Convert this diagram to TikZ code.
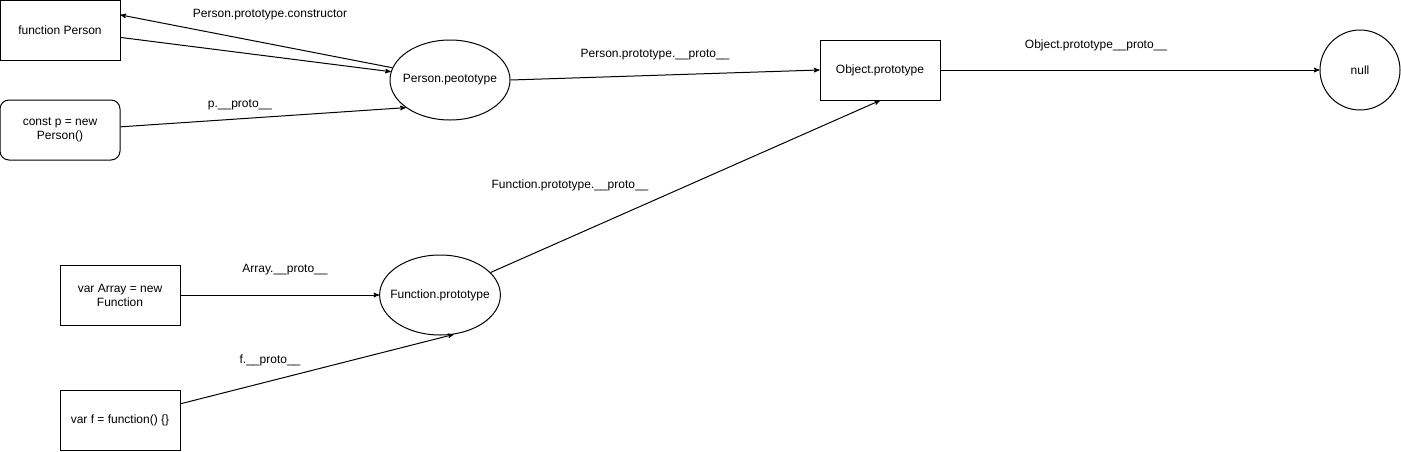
\documentclass[tikz,border=0pt]{standalone}
\usepackage{fontspec}
\setmainfont{Liberation Sans}
\usepackage{tikz}
\usetikzlibrary{arrows,shapes.geometric}

\begin{document}
\begin{tikzpicture}[x=1pt,y=-1pt,->,>=stealth',line width=1pt,
  font=\fontsize{12}{14}\selectfont,
  box node/.style={draw,-,minimum width=120pt,minimum height=60pt,align=center,inner sep=2pt},
  oval node/.style={draw,-,ellipse,minimum width=120pt,minimum height=80pt,inner xsep=-7pt,inner ysep=1pt},
  lbl node/.style={inner sep=1pt}]

  \useasboundingbox (0,0) rectangle (1401,451);

  \node[box node] (fperson) at (60,30) {function Person};
  \node[box node,rounded corners=9pt] (cp) at (60,130) {const p = new\\Person()};
  \node[oval node] (pproto) at (450,80) {Person.peototype};
  \node[box node] (obj) at (880,70) {Object.prototype};
  \node[draw,-,circle,minimum size=80pt] (null) at (1360,70) {null};
  \node[box node] (arr) at (120,295) {var Array = new\\Function};
  \node[oval node] (fproto) at (440,295) {Function.prototype};
  \node[box node] (fbox) at (120,420) {var f = function() \{\}};

  \path
    (fperson.-7.6) edge (pproto.172)
    (pproto.168) edge (fperson.14)
    (cp.3) edge (pproto.212)
    (pproto.east) edge (obj.west)
    (obj.east) edge (null.west)
    (fproto.24.8) edge (obj.south)
    (arr.east) edge (fproto.west)
    (fbox.15) edge (fproto.-71.6);

  \node[lbl node] (lctor) at (270,15) {Person.prototype.constructor};
  \node[lbl node] (lp) at (240,105) {p.\_\_proto\_\_};
  \node[lbl node] (lpp) at (655,55) {Person.prototype.\_\_proto\_\_};
  \node[lbl node] (lop) at (1096,45) {Object.prototype\_\_proto\_\_};
  \node[lbl node] (lfp) at (570,185) {Function.prototype.\_\_proto\_\_};
  \node[lbl node] (larr) at (285,270) {Array.\_\_proto\_\_};
  \node[lbl node] (lf) at (270,360) {f.\_\_proto\_\_};
\end{tikzpicture}
\end{document}
